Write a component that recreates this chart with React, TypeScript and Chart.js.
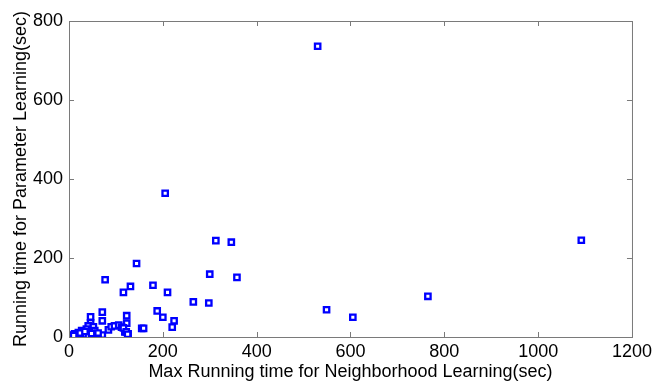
import React, { useEffect, useRef } from "react";
import { Chart, registerables } from "chart.js";

Chart.register(...registerables);

const neighborhoodTime: number[] = [
  530, 549, 605, 765, 1092, 205, 313, 346, 144, 300, 358, 77, 179, 131, 116, 210,
  265, 298, 71, 188, 200, 46, 123, 71, 224, 220, 46, 123, 155, 159, 84, 90, 97,
  106, 112, 119, 126, 71, 41, 37, 52, 55, 48, 27, 20, 12, 5, 2, 16, 30, 116, 122,
  125, 8, 10, 24, 34, 62,
];
const parameterTime: number[] = [
  736, 69, 50, 103, 245, 364, 244, 240, 186, 159, 151, 145, 131, 128, 113, 113,
  89, 86, 63, 66, 50, 51, 54, 41, 41, 25, 36, 35, 22, 22, 18, 26, 28, 30, 25, 13,
  8, 5, 28, 20, 26, 16, 9, 16, 11, 8, 5, 2, 3, 6, 23, 13, 7, 3, 4, 10, 14, 10,
];
const xTicks: number[] = [0, 200, 400, 600, 800, 1000, 1200];
const yTicks: number[] = [0, 200, 400, 600, 800];

const boxPlugin = {
  id: "boxTicks",
  afterDraw(chart: any) {
    const { ctx, chartArea: a, scales } = chart;
    ctx.save();
    ctx.strokeStyle = "#7a7a7a";
    ctx.lineWidth = 1;
    ctx.strokeRect(a.left + 0.5, a.top + 0.5, a.right - a.left, a.bottom - a.top);
    ctx.beginPath();
    const L = 5;
    xTicks.forEach((v) => {
      const x = Math.round(scales.x.getPixelForValue(v)) + 0.5;
      ctx.moveTo(x, a.bottom);
      ctx.lineTo(x, a.bottom - L);
      ctx.moveTo(x, a.top);
      ctx.lineTo(x, a.top + L);
    });
    yTicks.forEach((v) => {
      const y = Math.round(scales.y.getPixelForValue(v)) + 0.5;
      ctx.moveTo(a.left, y);
      ctx.lineTo(a.left + L, y);
      ctx.moveTo(a.right, y);
      ctx.lineTo(a.right - L, y);
    });
    ctx.stroke();
    ctx.restore();
  },
};

export default function App() {
  const ref = useRef<HTMLCanvasElement | null>(null);
  useEffect(() => {
    if (!ref.current) return;
    const font = "'Liberation Sans', Arial, Helvetica, sans-serif";
    const chart = new Chart(ref.current, {
      type: "scatter",
      data: {
        datasets: [
          {
            data: neighborhoodTime.map((x, i) => ({ x, y: parameterTime[i] })),
            pointStyle: "rect",
            pointRadius: 3.8,
            borderWidth: 2.3,
            borderColor: "#0000ff",
            backgroundColor: "#ffffff",
          },
        ],
      },
      options: {
        animation: false,
        responsive: false,
        layout: { padding: { left: 0, right: 22, top: 21, bottom: 0 } },
        plugins: { legend: { display: false }, tooltip: { enabled: false } },
        scales: {
          x: {
            type: "linear",
            min: 0,
            max: 1200,
            afterBuildTicks: (s: any) => {
              s.ticks = xTicks.map((v) => ({ value: v }));
            },
            afterFit: (s: any) => {
              s.height = 50;
            },
            grid: { display: false, drawTicks: false },
            border: { display: false },
            ticks: {
              color: "#000",
              font: { family: font, size: 18 },
              padding: 4,
              maxRotation: 0,
              callback: (v: any) => String(v),
            },
            title: {
              display: true,
              text: "Max Running time for Neighborhood Learning(sec)",
              color: "#000",
              font: { family: font, size: 18 },
              padding: { top: 0, bottom: 4 },
            },
          },
          y: {
            type: "linear",
            min: 0,
            max: 800,
            afterBuildTicks: (s: any) => {
              s.ticks = yTicks.map((v) => ({ value: v }));
            },
            afterFit: (s: any) => {
              s.width = 69;
            },
            grid: { display: false, drawTicks: false },
            border: { display: false },
            ticks: {
              color: "#000",
              font: { family: font, size: 18 },
              padding: 6,
              callback: (v: any) => String(v),
            },
            title: {
              display: true,
              text: "Running time for Parameter Learning(sec)",
              color: "#000",
              font: { family: font, size: 18 },
              padding: { top: 10, bottom: 0 },
            },
          },
        },
      },
      plugins: [boxPlugin],
    });
    return () => chart.destroy();
  }, []);
  return (
    <div style={{ position: "absolute", left: 0, top: 0, width: 656, height: 387, background: "#fff" }}>
      <canvas ref={ref} width={656} height={387} style={{ width: 656, height: 387 }} />
    </div>
  );
}
